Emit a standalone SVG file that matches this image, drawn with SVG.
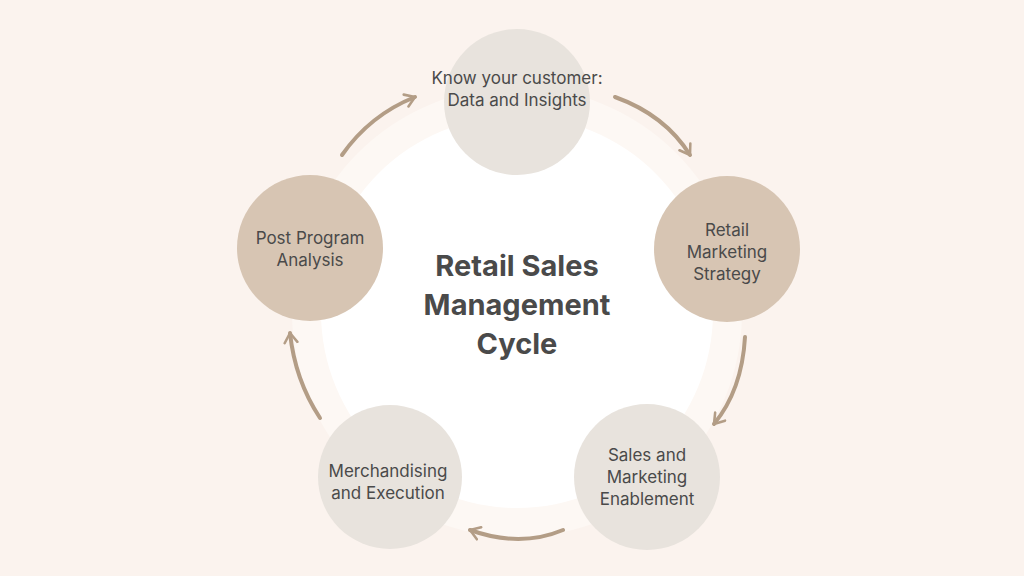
<svg xmlns="http://www.w3.org/2000/svg" width="1024" height="576" viewBox="0 0 1024 576">
<defs>
<marker id="ah" viewBox="0 0 10 10" refX="7" refY="5" markerWidth="4" markerHeight="4" orient="auto" markerUnits="strokeWidth">
<path d="M1,1 L7,5 L1,9" fill="none" stroke="#b39d86" stroke-width="1.6" stroke-linecap="round" stroke-linejoin="round"/>
</marker>
<style>
.lt{fill:#e8e3dd}.tn{fill:#d7c5b3}
text{font-family:Inter,"Noto Sans",sans-serif;fill:#4a4a4a;font-size:17px;text-anchor:middle}
.ar{fill:none;stroke:#b39d86;stroke-width:4;stroke-linecap:round;marker-end:url(#ah)}
</style>
</defs>
<rect width="1024" height="576" fill="#fbf3ee"/>
<circle cx="517" cy="312" r="225" fill="#fdf8f4"/>
<circle cx="517" cy="312" r="196" fill="#ffffff"/>
<g id="connectors">
<path class="ar" d="M342,155 Q370,115 415,97"/>
<path class="ar" d="M615,97 Q665,115 690,155"/>
<path class="ar" d="M745,337 Q742,390 714,424"/>
<path class="ar" d="M563,530 Q520,548 470,530"/>
<path class="ar" d="M320,418 Q295,380 290,333"/>
</g>
<g id="center"><text x="517" y="276" font-size="29" font-weight="700" style="font-size:29px">Retail Sales</text><text x="517" y="315" style="font-size:29px;font-weight:700">Management</text><text x="517" y="354" style="font-size:29px;font-weight:700">Cycle</text></g>
<g id="n1"><circle class="lt" cx="517" cy="102" r="73"/><text x="517" y="84">Know your customer:</text><text x="517" y="106">Data and Insights</text></g>
<g id="n2"><circle class="tn" cx="727" cy="249" r="73"/><text x="727" y="236">Retail</text><text x="727" y="258">Marketing</text><text x="727" y="280">Strategy</text></g>
<g id="n3"><circle class="lt" cx="647" cy="477" r="73"/><text x="647" y="461">Sales and</text><text x="647" y="483">Marketing</text><text x="647" y="505">Enablement</text></g>
<g id="n4"><circle class="lt" cx="390" cy="477" r="72"/><text x="388" y="477">Merchandising</text><text x="388" y="499">and Execution</text></g>
<g id="n5"><circle class="tn" cx="310" cy="248" r="73"/><text x="310" y="244">Post Program</text><text x="310" y="266">Analysis</text></g>
</svg>
